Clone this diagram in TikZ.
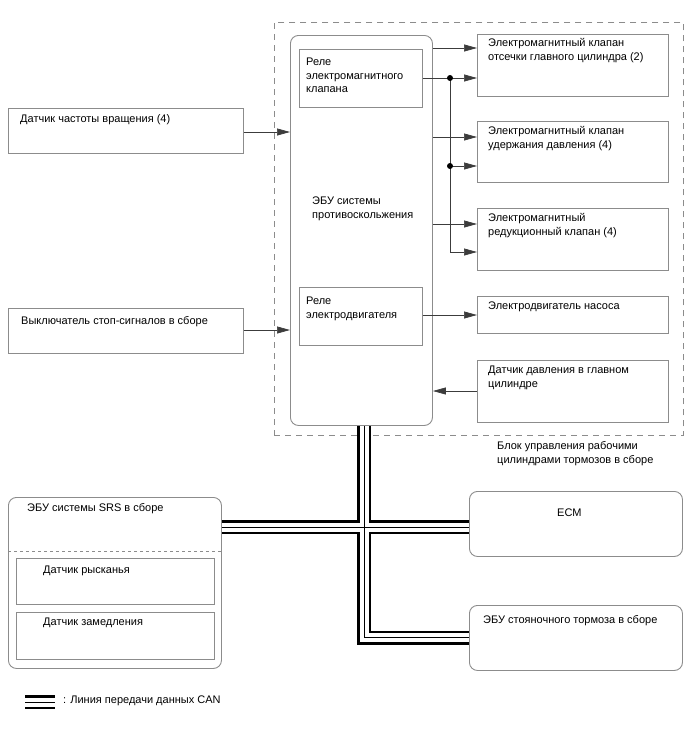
\documentclass[tikz,border=0pt]{standalone}
\usepackage{fontspec}
\setmainfont{Liberation Sans}
\usetikzlibrary{arrows.meta, positioning, calc}
\definecolor{boxgray}{HTML}{8C8C8C}
\definecolor{linegray}{HTML}{3C3C3C}

\begin{document}
\begin{tikzpicture}[x=1pt, y=-1pt, >={Triangle[length=13pt,width=7pt]},
  blk/.style={draw=boxgray, line width=0.9pt, anchor=north west, inner sep=0pt},
  rblk/.style={blk, rounded corners=8pt},
  txt/.style={anchor=north west, align=left, inner sep=0pt,
              font=\fontsize{11}{13.8}\selectfont},
  sig/.style={draw=linegray, line width=0.7pt},
  canout/.style={line width=14pt, black},
  canin/.style={line width=9pt, white},
  canmid/.style={line width=1pt, black}]
\useasboundingbox (0,0) rectangle (688,755);

% Brake actuator assembly frame
\node[blk, dash pattern=on 6pt off 5pt, minimum width=409pt, minimum height=413pt] (frame) at (274,22) {};
\node[txt] (framelbl) at (497,441.5) {Блок управления рабочими\\цилиндрами тормозов в сборе};

% Skid control ECU
\node[rblk, minimum width=142pt, minimum height=390pt] (ecu) at (290,35) {};
\node[txt] (eculbl) at (312,196.5) {ЭБУ системы\\противоскольжения};
\node[blk, minimum width=123pt, minimum height=58pt] (rlsol) at (299,49) {};
\node[txt] (rlsollbl) at (306,57.5) {Реле\\электромагнитного\\клапана};
\node[blk, minimum width=123pt, minimum height=58pt] (rlmot) at (299,287) {};
\node[txt] (rlmotlbl) at (306,296.5) {Реле\\электродвигателя};

% Actuator parts
\node[blk, minimum width=191pt, minimum height=62pt] (sol1) at (477,34) {};
\node[txt] (sol1lbl) at (488,38.5) {Электромагнитный клапан\\отсечки главного цилиндра (2)};
\node[blk, minimum width=191pt, minimum height=61pt] (sol2) at (477,121) {};
\node[txt] (sol2lbl) at (488,126.5) {Электромагнитный клапан\\удержания давления (4)};
\node[blk, minimum width=191pt, minimum height=62pt] (sol3) at (477,208) {};
\node[txt] (sol3lbl) at (488,213.5) {Электромагнитный\\редукционный клапан (4)};
\node[blk, minimum width=191pt, minimum height=37pt] (pump) at (477,296) {};
\node[txt] (pumplbl) at (488,301.5) {Электродвигатель насоса};
\node[blk, minimum width=191pt, minimum height=62pt] (prs) at (477,360) {};
\node[txt] (prslbl) at (488,365.5) {Датчик давления в главном\\цилиндре};

% Inputs
\node[blk, minimum width=235pt, minimum height=45pt] (spd) at (8,108) {};
\node[txt] (spdlbl) at (20,114.5) {Датчик частоты вращения (4)};
\node[blk, minimum width=235pt, minimum height=45pt] (stp) at (8,308) {};
\node[txt] (stplbl) at (21,316.5) {Выключатель стоп-сигналов в сборе};

% CAN nodes
\node[rblk, minimum width=213pt, minimum height=171pt] (srs) at (8,497) {};
\node[txt] (srslbl) at (27,503.5) {ЭБУ системы SRS в сборе};
\draw[boxgray, line width=0.9pt, dashed] (srs.west |- 0,551) -- (srs.east |- 0,551);
\node[blk, minimum width=198pt, minimum height=46pt] (yaw) at (16,558) {};
\node[txt] (yawlbl) at (43,565.5) {Датчик рысканья};
\node[blk, minimum width=198pt, minimum height=47pt] (dec) at (16,612) {};
\node[txt] (declbl) at (43,617.5) {Датчик замедления};
\node[rblk, minimum width=213pt, minimum height=65pt] (ecm) at (469,491) {};
\node[txt] (ecmlbl) at (557,508.5) {ECM};
\node[rblk, minimum width=213pt, minimum height=65pt] (epb) at (469,605) {};
\node[txt] (epblbl) at (483,615.5) {ЭБУ стояночного тормоза в сборе};

% Signal lines
\coordinate (d1) at (450,78);
\coordinate (d2) at (450,166);
\draw[sig,->] (spd.east |- 0,132) -- (ecu.west |- 0,132);
\draw[sig,->] (stp.east |- 0,330) -- (ecu.west |- 0,330);
\draw[sig,->] (ecu.east |- 0,48) -- (sol1.west |- 0,48);
\draw[sig,->] (rlsol.east |- d1) -- (sol1.west |- d1);
\draw[sig,->] (ecu.east |- 0,137) -- (sol2.west |- 0,137);
\draw[sig,->] (d2) -- (sol2.west |- d2);
\draw[sig,->] (ecu.east |- 0,224) -- (sol3.west |- 0,224);
\draw[sig,->] (d1) -- (d1 |- 0,252) -- (sol3.west |- 0,252);
\draw[sig,->] (rlmot.east |- 0,315) -- (pump.west |- 0,315);
\draw[sig,->] (prs.west |- 0,391) -- (ecu.east |- 0,391);
\fill[black] (d1) circle (3pt) (d2) circle (3pt);

% CAN bus
\coordinate (jn) at (364,527);
\foreach \s in {canout,canin,canmid}{
  \draw[\s] (ecu.south -| jn) -- (jn |- epb.west) -- (epb.west);
  \draw[\s] (srs.east |- jn) -- (ecm.west |- jn);
  \draw[\s] (25,702) -- (55,702);
}
\node[txt] (canlbl) at (63,695.5) {: Линия передачи данных CAN};
\end{tikzpicture}
\end{document}
